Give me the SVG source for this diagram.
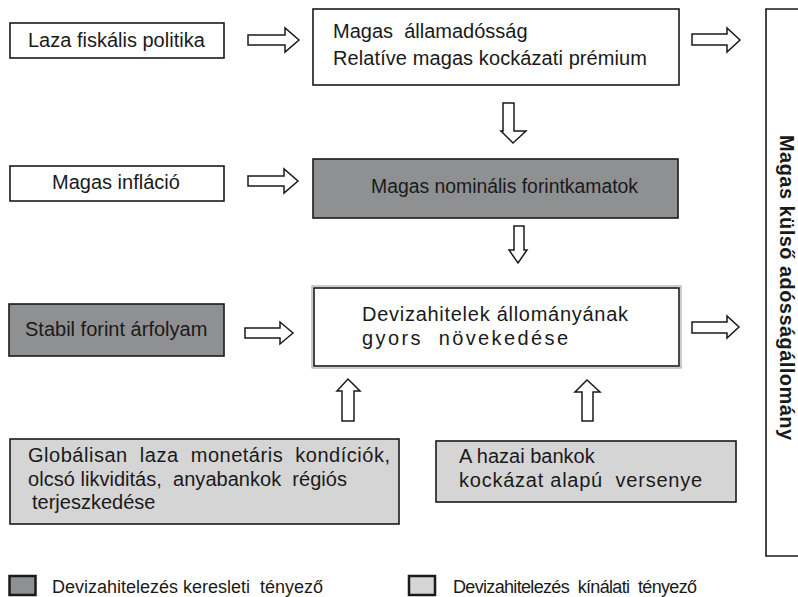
<svg xmlns="http://www.w3.org/2000/svg" width="798" height="597" viewBox="0 0 798 597">
<style>
.box{stroke:#1a1a1a;stroke-width:1.6}
.w{fill:#ffffff}
.d{fill:#8f9092}
.l{fill:#d5d5d5}
.arr{fill:#ffffff;stroke:#1a1a1a;stroke-width:1.5;stroke-linejoin:miter}
text{font-family:"Liberation Sans",Arial,Helvetica,sans-serif;font-size:20px;fill:#1a1a1a}
.b{font-weight:bold}
.lg{font-size:18px}
</style>
<rect width="798" height="597" fill="#ffffff"/>

<g id="n-laza">
<rect class="box w" x="10" y="23" width="214" height="35"/>
<text x="28" y="47">Laza fiskális politika</text>
</g>

<g id="n-allamadossag">
<rect class="box w" x="313" y="9" width="366" height="76"/>
<text x="333" y="38" xml:space="preserve">Magas  államadósság</text>
<text x="333" y="65" textLength="314" lengthAdjust="spacing">Relatíve magas kockázati prémium</text>
</g>

<g id="n-inflacio">
<rect class="box w" x="10" y="166" width="214" height="35"/>
<text x="52" y="189">Magas infláció</text>
</g>

<g id="n-kamat">
<rect class="box d" x="313" y="159" width="365" height="59"/>
<text x="371" y="193" textLength="267" lengthAdjust="spacingAndGlyphs">Magas nominális forintkamatok</text>
</g>

<g id="n-stabil">
<rect class="box d" x="9" y="304" width="215" height="52"/>
<text x="25" y="336">Stabil forint árfolyam</text>
</g>

<g id="n-deviza">
<rect x="312" y="286" width="369" height="82" fill="none" stroke="#9a9a9a" stroke-width="1"/>
<rect class="box w" x="314" y="288" width="365" height="78"/>
<text x="362" y="321" textLength="266" lengthAdjust="spacing">Devizahitelek állományának</text>
<text x="362" y="345" xml:space="preserve" textLength="206" lengthAdjust="spacing">gyors  növekedése</text>
</g>

<g id="n-globalis">
<rect class="box l" x="10" y="439" width="389" height="85"/>
<text x="28" y="462" xml:space="preserve" textLength="362" lengthAdjust="spacing">Globálisan  laza  monetáris  kondíciók,</text>
<text x="28" y="486" xml:space="preserve" textLength="319" lengthAdjust="spacing">olcsó likviditás,  anyabankok  régiós</text>
<text x="32" y="509">terjeszkedése</text>
</g>

<g id="n-hazai">
<rect class="box l" x="436" y="441" width="300" height="61"/>
<text x="459" y="463">A hazai bankok</text>
<text x="459" y="487" xml:space="preserve" textLength="243" lengthAdjust="spacing">kockázat alapú  versenye</text>
</g>

<g id="n-kulso">
<path d="M 800 9 L 766 9 L 766 556 L 800 556" fill="#ffffff" stroke="#1a1a1a" stroke-width="1.6"/>
<text class="b" transform="translate(780,135) rotate(90)" x="0" y="0" textLength="305" lengthAdjust="spacing">Magas külső adósságállomány</text>
</g>

<g id="connectors">
<polygon class="arr" points="248,35 285,35 285,28 299,40 285,52 285,45 248,45"/>
<polygon class="arr" points="248,176 284,176 284,169 298,181 284,193 284,186 248,186"/>
<polygon class="arr" points="245,328 280,328 280,322 293,333 280,344 280,338 245,338"/>
<polygon class="arr" points="692,34 727,34 727,28 740,40 727,52 727,45 692,45"/>
<polygon class="arr" points="692,322 727,322 727,316 739,327 727,338 727,333 692,333"/>
<polygon class="arr" points="503,103 514,103 514,131 526,131 513,143 501,131 503,131"/>
<polygon class="arr" points="514,226 524,226 524,250 527,250 518,263 509,250 514,250"/>
<polygon class="arr" points="342,421 342,391 337,391 348,379 360,391 354,391 354,421"/>
<polygon class="arr" points="582,421 582,392 575,392 587,380 600,392 593,392 593,421"/>
</g>

<g id="legend">
<rect x="9.5" y="576" width="26" height="19" fill="#8f9092" stroke="#1a1a1a" stroke-width="2.5"/>
<text class="lg" x="52" y="593" xml:space="preserve">Devizahitelezés keresleti  tényező</text>
<rect x="409" y="576" width="26" height="19" fill="#d5d5d5" stroke="#1a1a1a" stroke-width="2.5"/>
<text class="lg" x="453" y="593" xml:space="preserve" textLength="244" lengthAdjust="spacing">Devizahitelezés  kínálati  tényező</text>
</g>
</svg>
